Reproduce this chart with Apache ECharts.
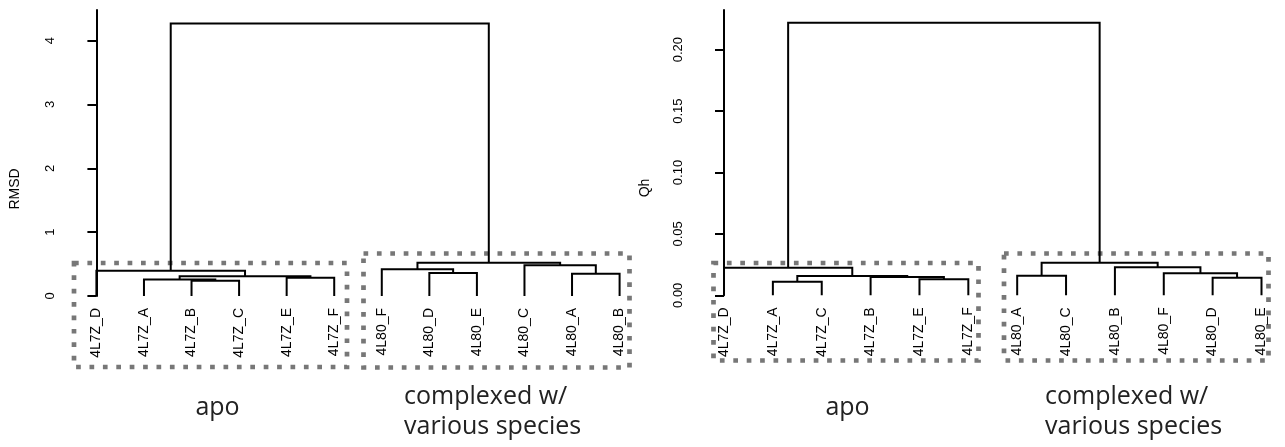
<!DOCTYPE html>
<html><head><meta charset="utf-8">
<script src="https://cdn.jsdelivr.net/npm/echarts@6/dist/echarts.min.js"></script>
<style>html,body{margin:0;padding:0;background:#fff}#c{width:1285px;height:447px}</style>
</head><body><div id="c"></div>
<script>
// ---- data ----
const rmsdLeaves = ['4L7Z_D','4L7Z_A','4L7Z_B','4L7Z_C','4L7Z_E','4L7Z_F','4L80_F','4L80_D','4L80_E','4L80_C','4L80_A','4L80_B'];
// R hclust style merges: negative = leaf (1-based), positive = earlier merge row
const rmsdMerge = [[-3,-4],[-2,1],[-5,-6],[2,3],[-1,4],[-11,-12],[-8,-9],[-7,7],[-10,6],[8,9],[5,10]];
const rmsdHeight = [0.24,0.26,0.285,0.31,0.395,0.35,0.36,0.42,0.48,0.52,4.27];
const rmsdTicks = [0,1,2,3,4];

const qhLeaves = ['4L7Z_D','4L7Z_A','4L7Z_C','4L7Z_B','4L7Z_E','4L7Z_F','4L80_A','4L80_C','4L80_B','4L80_F','4L80_D','4L80_E'];
const qhMerge = [[-2,-3],[-5,-6],[-4,2],[1,3],[-1,4],[-11,-12],[-7,-8],[-10,6],[-9,8],[7,9],[5,10]];
const qhHeight = [0.011,0.013,0.0150,0.0157,0.0225,0.0143,0.016,0.0179,0.0228,0.0265,0.222];
const qhTicks = [0,0.05,0.10,0.15,0.20];

const axisNames = ['RMSD','Qh'];
const groupLabels = ['apo','complexed w/\nvarious species'];

// ---- build dendrogram links ----
function buildLinks(merge, height){
  const pos = [], out = [];
  const node = id => id < 0 ? {x: -id - 1, h: 0} : {x: pos[id - 1], h: height[id - 1]};
  merge.forEach((m, i) => {
    const a = node(m[0]), b = node(m[1]);
    pos[i] = (a.x + b.x) / 2;
    out.push([a.x, a.h, b.x, b.h, height[i]]);
  });
  return out;
}

const FONT = "'Liberation Sans', Arial, sans-serif";
const renderLink = (params, api) => {
  const p1 = api.coord([api.value(0), api.value(1)]);
  const p2 = api.coord([api.value(0), api.value(4)]);
  const p3 = api.coord([api.value(2), api.value(4)]);
  const p4 = api.coord([api.value(2), api.value(3)]);
  return {type: 'polyline', shape: {points: [p1, p2, p3, p4]},
    style: {stroke: '#000', lineWidth: 2, fill: null}};
};

function xAxisFor(idx, leaves, min, max){
  return {type: 'value', gridIndex: idx, min: min, max: max,
    axisLine: {show: false}, axisTick: {show: false}, splitLine: {show: false},
    axisLabel: {show: true, rotate: 90, margin: 12, customValues: leaves.map((_, i) => i),
      formatter: v => leaves[Math.round(v)], color: '#000', fontSize: 14, fontFamily: FONT}};
}
function yAxisFor(idx, ticks, max, fmt){
  return {type: 'value', gridIndex: idx, min: 0, max: max,
    axisLine: {show: true, lineStyle: {color: '#000', width: 2}},
    axisTick: {show: true, length: 9, customValues: ticks, lineStyle: {color: '#000', width: 2}},
    splitLine: {show: false},
    axisLabel: {show: true, rotate: 90, margin: 18, customValues: ticks, formatter: fmt,
      color: '#000', fontSize: 13, fontFamily: FONT}};
}

function dashBox(x, y, w, h){
  return {type: 'rect', shape: {x: x, y: y, width: w, height: h},
    style: {fill: null, stroke: '#777', lineWidth: 4.7, lineDash: [4.7, 8.7]}, silent: true};
}
const BIG = "25px 'Open Sans', sans-serif";
function groupText(x, y, s, align){
  return {type: 'text', x: x, y: y,
    style: {text: s, fill: '#222', font: BIG, textAlign: align, textVerticalAlign: 'middle', lineHeight: 30}};
}
function axisName(x, y, s){
  return {type: 'text', x: x, y: y, rotation: Math.PI / 2,
    style: {text: s, fill: '#000', font: '14px ' + FONT, textAlign: 'center', textVerticalAlign: 'middle'}};
}

const chart = echarts.init(document.getElementById('c'), null, {renderer: 'canvas'});
chart.setOption({
  animation: false,
  backgroundColor: '#fff',
  grid: [
    {left: 75, top: 10, width: 566, height: 286},
    {left: 703, top: 10, width: 580, height: 285.3}
  ],
  xAxis: [xAxisFor(0, rmsdLeaves, -0.45, 11.45), xAxisFor(1, qhLeaves, -0.43, 11.44)],
  yAxis: [yAxisFor(0, rmsdTicks, 4.48, v => String(v)), yAxisFor(1, qhTicks, 0.2323, v => v.toFixed(2))],
  series: [
    {type: 'custom', xAxisIndex: 0, yAxisIndex: 0, data: buildLinks(rmsdMerge, rmsdHeight),
      renderItem: renderLink, encode: {x: [0, 2], y: [1, 3, 4]}, silent: true},
    {type: 'custom', xAxisIndex: 1, yAxisIndex: 1, data: buildLinks(qhMerge, qhHeight),
      renderItem: renderLink, encode: {x: [0, 2], y: [1, 3, 4]}, silent: true}
  ],
  graphic: [
    dashBox(74, 263, 273, 104),
    dashBox(363.5, 253.5, 266, 114),
    dashBox(713.5, 263, 265, 97.5),
    dashBox(1004, 253.5, 264.5, 107),
    axisName(15, 189, axisNames[0]),
    axisName(645, 188, axisNames[1]),
    groupText(217.5, 408, groupLabels[0], 'center'),
    groupText(404, 412, groupLabels[1], 'left'),
    groupText(847.5, 408, groupLabels[0], 'center'),
    groupText(1045, 412, groupLabels[1], 'left')
  ]
});
</script></body></html>
